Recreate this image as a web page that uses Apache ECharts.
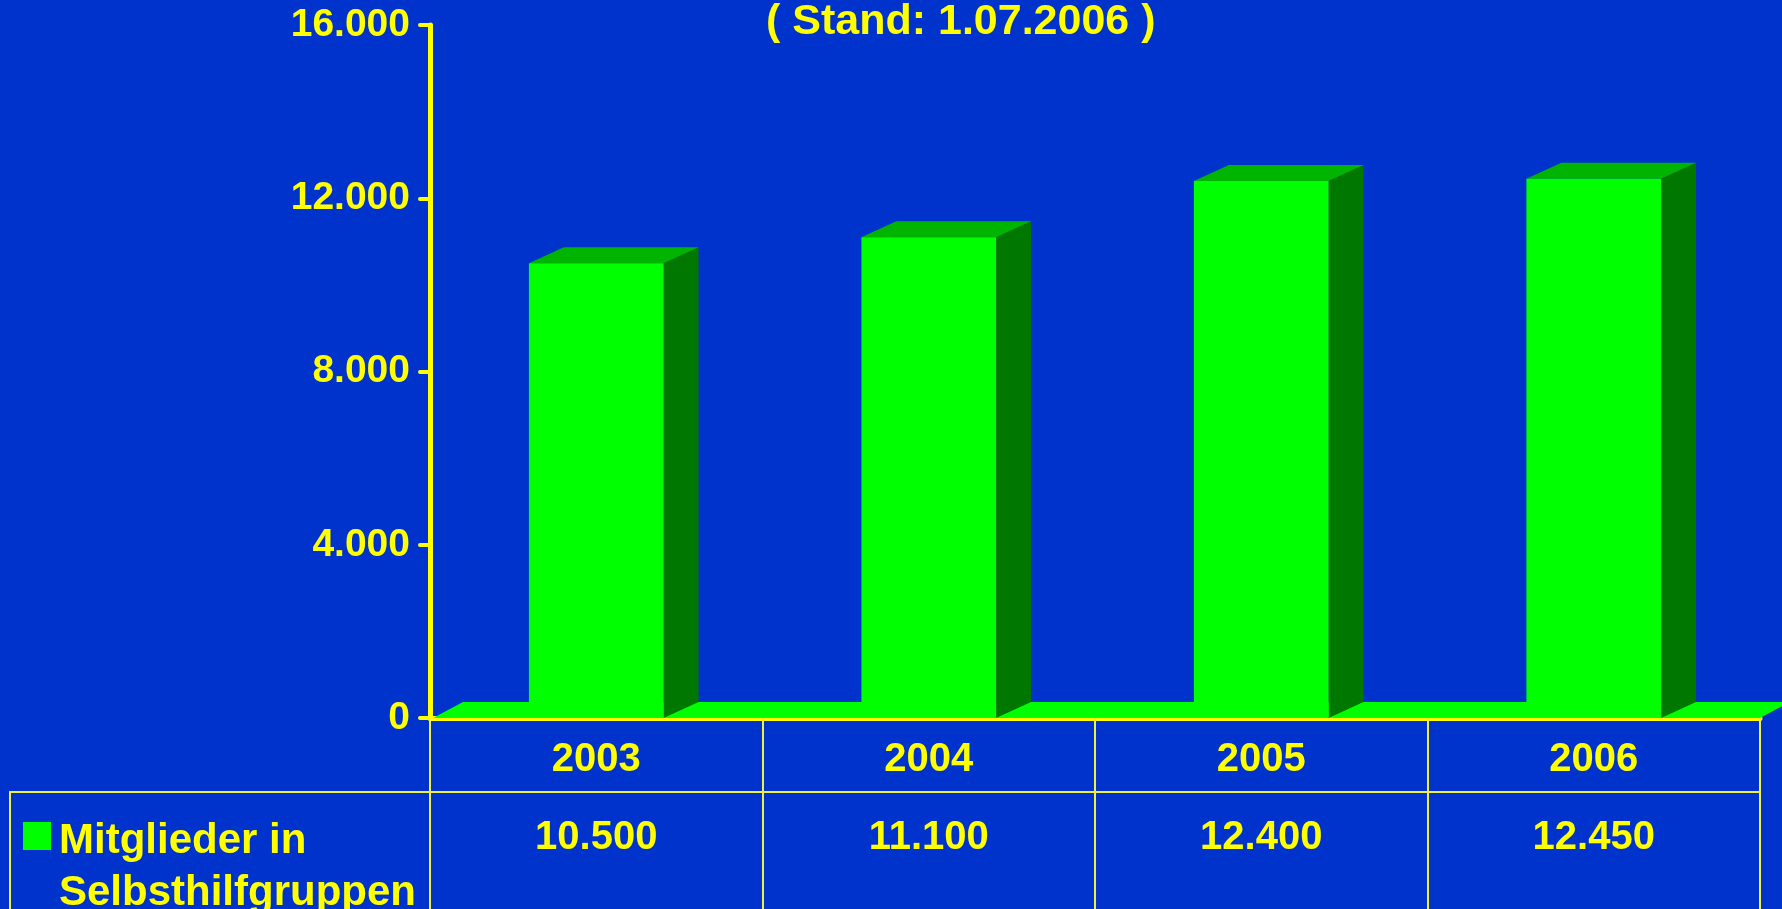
<!DOCTYPE html>
<html>
<head>
<meta charset="utf-8">
<title>Mitglieder in Selbsthilfgruppen</title>
<script src="https://cdn.jsdelivr.net/npm/echarts@6/dist/echarts.min.js"></script>
<style>
  html, body { margin: 0; padding: 0; background: #0033cc; }
  #chart { width: 1782px; height: 909px; }
</style>
</head>
<body>
<div id="chart"></div>
<script>
// data
const years = ['2003', '2004', '2005', '2006'];
const members = [10500, 11100, 12400, 12450];
const seriesName = 'Mitglieder in Selbsthilfgruppen';
const subtitle = '( Stand: 1.07.2006 )';
const yMax = 16000;
const yStep = 4000;

// look
const BG = '#0033cc';
const YELLOW = '#ffff00';
const TABLE_LINE = '#f0f040';
const FRONT = '#00ff00';
const TOP = '#00b400';
const SIDE = '#007800';
const FONT = '"Liberation Sans", Arial, sans-serif';
const BAR_RATIO = 0.405;
const DX = 35, DY = 16;
const FLOOR_DX = 30, FLOOR_DY = 16;

const GRID_LEFT = 430, GRID_RIGHT = 22, GRID_TOP = 25, GRID_BOTTOM = 191;
const HEADER_H = 74;

function fmt(v) {
  return String(v).replace(/\B(?=(\d{3})+(?!\d))/g, '.');
}

function renderFloor(params) {
  const cs = params.coordSys;
  const yb = cs.y + cs.height;
  const xl = cs.x + 3;
  const xr = cs.x + cs.width;
  return {
    type: 'polygon',
    shape: { points: [[xl, yb], [xl + FLOOR_DX, yb - FLOOR_DY], [xr + FLOOR_DX, yb - FLOOR_DY], [xr, yb]] },
    style: { fill: FRONT }
  };
}

function renderBar(params, api) {
  const top = api.coord([api.value(0), api.value(1)]);
  const base = api.coord([api.value(0), 0]);
  const w = api.size([1, 0])[0] * BAR_RATIO;
  const xl = top[0] - w / 2;
  const xr = top[0] + w / 2;
  const yt = top[1];
  const yb = base[1];
  return {
    type: 'group',
    children: [
      { type: 'polygon', shape: { points: [[xr, yt], [xr + DX, yt - DY], [xr + DX, yb - DY], [xr, yb]] }, style: { fill: SIDE } },
      { type: 'polygon', shape: { points: [[xl, yt], [xl + DX, yt - DY], [xr + DX, yt - DY], [xr, yt]] }, style: { fill: TOP } },
      { type: 'rect', shape: { x: xl, y: yt, width: w, height: yb - yt }, style: { fill: FRONT } }
    ]
  };
}

const labelStyle = { color: YELLOW, fontFamily: FONT, fontWeight: 'bold', fontSize: 40, lineHeight: 40 };
const legendText = { color: YELLOW, fontFamily: FONT, fontWeight: 'bold', fontSize: 42, lineHeight: 52 };

const chart = echarts.init(document.getElementById('chart'));
chart.setOption({
  animation: false,
  backgroundColor: BG,
  title: {
    text: subtitle,
    left: 766,
    top: 0,
    padding: 0,
    textStyle: {
      color: YELLOW, fontFamily: FONT, fontWeight: 'bold', fontSize: 43, lineHeight: 44,
      textShadowColor: '#000000', textShadowOffsetX: 2, textShadowOffsetY: 2
    }
  },
  legend: {
    data: [{ name: seriesName, icon: 'path://M0,0H10V10H0Z', itemStyle: { color: FRONT } }],
    left: 23,
    top: 753,
    padding: 0,
    itemWidth: 34,
    itemHeight: 28,
    symbolKeepAspect: true,
    selectedMode: false,
    // empty first line keeps "Mitglieder in" level with the icon
    formatter: (name) => '{gap|}\n{t|' + name.replace(' in ', ' in}\n{t|') + '}',
    textStyle: Object.assign({}, legendText, {
      rich: {
        gap: { lineHeight: 62, fontSize: 42 },
        t: legendText
      }
    })
  },
  grid: { left: GRID_LEFT, right: GRID_RIGHT, top: GRID_TOP, bottom: GRID_BOTTOM },
  xAxis: [
    {
      type: 'category',
      data: years,
      position: 'bottom',
      axisLine: { show: true, lineStyle: { color: YELLOW, width: 5, cap: 'round' } },
      axisTick: { show: true, interval: 0, length: HEADER_H, lineStyle: { color: TABLE_LINE, width: 2 } },
      axisLabel: Object.assign({ interval: 0, margin: 22 }, labelStyle),
      splitLine: { show: false }
    },
    {
      type: 'category',
      data: members.map(fmt),
      position: 'bottom',
      offset: HEADER_H,
      axisLine: { show: true, lineStyle: { color: TABLE_LINE, width: 2 } },
      axisTick: { show: true, interval: 0, length: 130, lineStyle: { color: TABLE_LINE, width: 2 } },
      axisLabel: Object.assign({ interval: 0, margin: 26 }, labelStyle),
      splitLine: { show: false }
    }
  ],
  yAxis: {
    type: 'value',
    min: 0,
    max: yMax,
    interval: yStep,
    axisLine: { show: true, lineStyle: { color: YELLOW, width: 5, cap: 'round' } },
    axisTick: { show: true, length: 10, lineStyle: { color: YELLOW, width: 4, cap: 'round' } },
    axisLabel: Object.assign({ margin: 20, formatter: (v) => fmt(v) }, labelStyle, { fontSize: 39 }),
    splitLine: { show: false }
  },
  graphic: [
    {
      type: 'polyline',
      shape: { points: [[10, 920], [10, 909 - GRID_BOTTOM + HEADER_H], [GRID_LEFT, 909 - GRID_BOTTOM + HEADER_H]] },
      style: { stroke: TABLE_LINE, lineWidth: 2, fill: null }
    }
  ],
  series: [
    {
      name: 'floor',
      type: 'custom',
      xAxisIndex: 0,
      yAxisIndex: 0,
      renderItem: renderFloor,
      data: [[0, 0]],
      silent: true,
      z: 1
    },
    {
      name: seriesName,
      type: 'custom',
      xAxisIndex: 0,
      yAxisIndex: 0,
      color: FRONT,
      renderItem: renderBar,
      data: years.map((y, i) => [i, members[i]]),
      z: 2
    }
  ]
});
</script>
</body>
</html>
